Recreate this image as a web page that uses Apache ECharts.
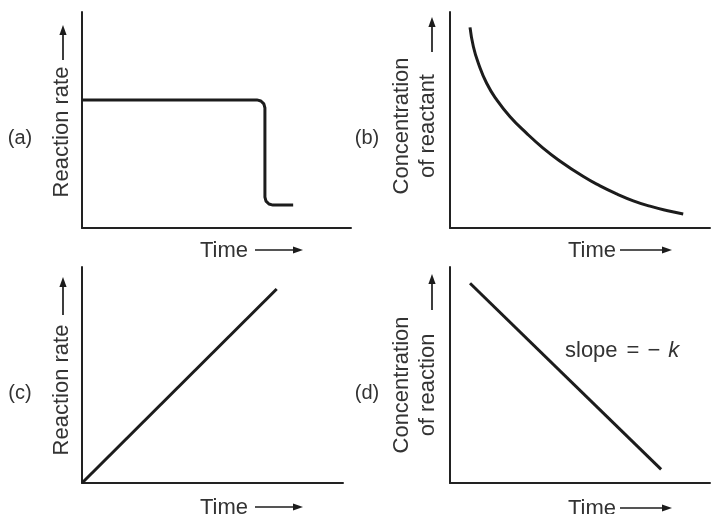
<!DOCTYPE html>
<html>
<head>
<meta charset="utf-8">
<script src="https://cdn.jsdelivr.net/npm/echarts@6/dist/echarts.min.js"></script>
<style>
html,body{margin:0;padding:0;background:#fff;}
#chart{width:711px;height:514px;}
</style>
</head>
<body>
<div id="chart"></div>
<script>
// Panel (a): reaction rate vs time (constant, then sudden drop)
const timeA = [0, 65, 66.5, 67.6, 68, 68, 68.4, 69.5, 71, 78.5];
const rateA = [59.3, 59.3, 58.8, 57.45, 55.6, 14.3, 12.45, 11.1, 10.6, 10.6];
// Panel (b): concentration of reactant vs time (decay curve)
const timeB = [7.7, 9.0, 10.9, 14.1, 18.0, 23.1, 29.5, 35.9, 41.7, 51.3, 57.7, 64.1, 70.5, 76.9, 83.3, 89.7];
const concB = [92.9, 83.9, 76.3, 67.0, 59.3, 51.5, 43.8, 36.9, 31.5, 23.8, 19.5, 15.8, 12.6, 10.1, 8.1, 6.5];
// Panel (c): reaction rate vs time (linear increase)
const timeC = [0, 74.6];
const rateC = [0, 89.8];
// Panel (d): concentration vs time (linear decrease)
const timeD = [7.7, 81.2];
const concD = [92.5, 6.3];

const panelLetters = ['(a)', '(b)', '(c)', '(d)'];
const yTitles = ['Reaction rate', 'Concentration\nof reactant', 'Reaction rate', 'Concentration\nof reaction'];
const xTitle = 'Time';
const slopeParts = ['slope', '=', '−', 'k'];

const zip = (xs, ys) => xs.map((x, i) => [x, ys[i]]);

const FONT = 'Liberation Sans, Arial, sans-serif';
const TXT = '#333';
const INK = '#1c1c1c';

const grids = [
  {left: 82, top: 12, width: 269, height: 216},
  {left: 450, top: 12, width: 260, height: 216},
  {left: 82, top: 267, width: 261, height: 216},
  {left: 450, top: 267, width: 260, height: 216}
];

function axis(i) {
  return {
    type: 'value', gridIndex: i, min: 0, max: 100,
    axisLine: {show: true, lineStyle: {color: '#222', width: 2}},
    axisTick: {show: false}, axisLabel: {show: false}, splitLine: {show: false}
  };
}

function arrow(x1, y1, x2, y2) {
  const dx = x2 - x1, dy = y2 - y1, L = Math.hypot(dx, dy);
  const ux = dx / L, uy = dy / L, px = -uy, py = ux;
  const hl = 10, hw = 3.6;
  const bx = x2 - ux * hl, by = y2 - uy * hl;
  return [
    {type: 'line', shape: {x1: x1, y1: y1, x2: bx + ux * 1, y2: by + uy * 1},
     style: {stroke: INK, lineWidth: 1.7}, silent: true},
    {type: 'polygon', shape: {points: [[x2, y2], [bx + px * hw, by + py * hw], [bx - px * hw, by - py * hw]]},
     style: {fill: INK}, silent: true}
  ];
}

const yTitlePos = [[62, 132], [415, 126], [62, 390], [415, 385]];
const yArrows = [[63, 60, 63, 25], [432, 52, 432, 17], [63, 315, 63, 277], [432, 310, 432, 274]];
const xTitlePos = [[224, 251], [592, 251], [224, 508], [592, 509]];
const xArrows = [[255, 250, 303, 250], [620, 250, 672, 250], [255, 507, 303, 507], [620, 508, 672, 508]];
const letterPos = [[20, 138], [367, 138], [20, 393], [367, 393]];

const graphic = [];
for (let i = 0; i < 4; i++) {
  graphic.push({type: 'text', x: yTitlePos[i][0], y: yTitlePos[i][1], rotation: Math.PI / 2,
    style: {text: yTitles[i], align: 'center', verticalAlign: 'middle', font: '22px ' + FONT, fill: TXT, lineHeight: 26}});
  graphic.push({type: 'text', x: xTitlePos[i][0], y: xTitlePos[i][1],
    style: {text: xTitle, align: 'center', verticalAlign: 'middle', font: '22px ' + FONT, fill: TXT}});
  graphic.push({type: 'text', x: letterPos[i][0], y: letterPos[i][1],
    style: {text: panelLetters[i], align: 'center', verticalAlign: 'middle', font: '20px ' + FONT, fill: TXT}});
  graphic.push(...arrow(...yArrows[i]));
  graphic.push(...arrow(...xArrows[i]));
}
graphic.push({type: 'text', x: 565, y: 351,
  style: {
    text: '{a|' + slopeParts[0] + '}{e|' + slopeParts[1] + '}{m|' + slopeParts[2] + '}{k|' + slopeParts[3] + '}',
    align: 'left', verticalAlign: 'middle',
    rich: {
      a: {font: '22px ' + FONT, fill: TXT},
      e: {font: '22px ' + FONT, fill: TXT, padding: [0, 0, 0, 9]},
      m: {font: '22px ' + FONT, fill: TXT, padding: [0, 0, 0, 8]},
      k: {font: 'italic 22px ' + FONT, fill: TXT, padding: [0, 0, 0, 8]}
    }
  }});

const lineStyle = {color: INK, width: 3};
const chart = echarts.init(document.getElementById('chart'), null, {renderer: 'canvas'});
chart.setOption({
  animation: false,
  backgroundColor: '#fff',
  grid: grids,
  xAxis: [0, 1, 2, 3].map(i => axis(i)),
  yAxis: [0, 1, 2, 3].map(i => axis(i)),
  series: [
    {type: 'line', xAxisIndex: 0, yAxisIndex: 0, data: zip(timeA, rateA), showSymbol: false, lineStyle: lineStyle, itemStyle: {color: INK}},
    {type: 'line', xAxisIndex: 1, yAxisIndex: 1, data: zip(timeB, concB), smooth: 0.5, showSymbol: false, lineStyle: lineStyle, itemStyle: {color: INK}},
    {type: 'line', xAxisIndex: 2, yAxisIndex: 2, data: zip(timeC, rateC), showSymbol: false, lineStyle: lineStyle, itemStyle: {color: INK}},
    {type: 'line', xAxisIndex: 3, yAxisIndex: 3, data: zip(timeD, concD), showSymbol: false, lineStyle: lineStyle, itemStyle: {color: INK}}
  ],
  graphic: graphic
});
</script>
</body>
</html>
